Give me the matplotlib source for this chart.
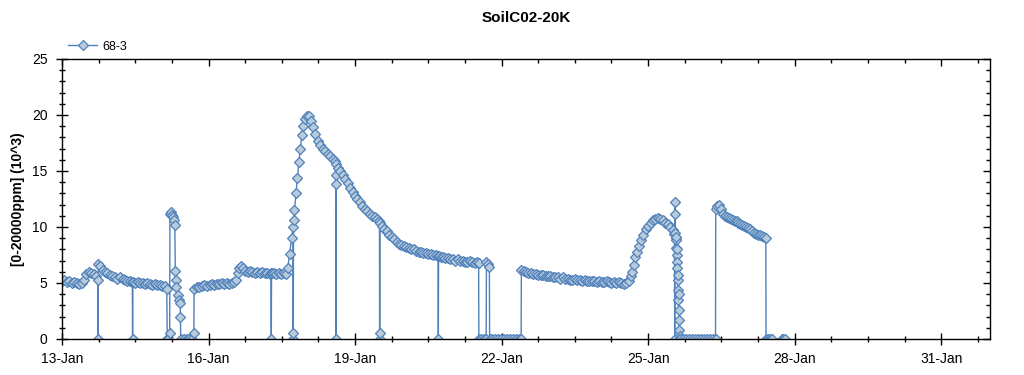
import matplotlib
matplotlib.use("Agg")
import matplotlib.pyplot as plt
import matplotlib.lines as mlines
import numpy as np
import pandas as pd

plt.rcParams['font.family'] = ['Liberation Sans', 'DejaVu Sans']

# ---------------- data (days after 13-Jan 00:00, value in 10^3 ppm) ----------------
day_offset = [
    0.00, 0.05, 0.10, 0.15, 0.20, 0.25, 0.30, 0.35, 0.40, 0.45,
    0.50, 0.55, 0.60, 0.65, 0.70, 0.73, 0.735, 0.745, 0.78, 0.83,
    0.88, 0.93, 0.98, 1.03, 1.08, 1.13, 1.19, 1.24, 1.29, 1.34,
    1.39, 1.44, 1.445, 1.45, 1.50, 1.55, 1.60, 1.65, 1.70, 1.75,
    1.80, 1.85, 1.90, 1.95, 2.00, 2.05, 2.10, 2.145, 2.155, 2.18,
    2.205, 2.21, 2.23, 2.25, 2.27, 2.29, 2.31, 2.32, 2.325, 2.33,
    2.37, 2.40, 2.42, 2.425, 2.43, 2.49, 2.55, 2.61, 2.67, 2.70,
    2.705, 2.76, 2.81, 2.86, 2.91, 2.97, 3.02, 3.07, 3.12, 3.17,
    3.22, 3.27, 3.32, 3.37, 3.42, 3.48, 3.53, 3.57, 3.60, 3.63,
    3.66, 3.70, 3.75, 3.80, 3.85, 3.90, 3.95, 4.00, 4.05, 4.10,
    4.15, 4.20, 4.25, 4.28, 4.285, 4.29, 4.34, 4.39, 4.44, 4.49,
    4.54, 4.58, 4.62, 4.66, 4.70, 4.73, 4.732, 4.735, 4.74, 4.76,
    4.79, 4.82, 4.85, 4.88, 4.91, 4.94, 4.98, 5.02, 5.06, 5.10,
    5.14, 5.19, 5.24, 5.29, 5.34, 5.39, 5.44, 5.49, 5.54, 5.59,
    5.60, 5.603, 5.606, 5.61, 5.65, 5.70, 5.75, 5.80, 5.85, 5.90,
    5.95, 6.00, 6.05, 6.10, 6.15, 6.20, 6.25, 6.30, 6.35, 6.40,
    6.45, 6.50, 6.503, 6.506, 6.51, 6.55, 6.60, 6.65, 6.70, 6.75,
    6.80, 6.85, 6.90, 6.95, 7.00, 7.05, 7.10, 7.15, 7.20, 7.25,
    7.30, 7.35, 7.40, 7.45, 7.50, 7.55, 7.60, 7.65, 7.70, 7.705,
    7.71, 7.75, 7.80, 7.85, 7.90, 7.95, 8.00, 8.05, 8.10, 8.15,
    8.20, 8.25, 8.30, 8.35, 8.40, 8.45, 8.50, 8.53, 8.535, 8.58,
    8.64, 8.685, 8.69, 8.72, 8.75, 8.755, 8.81, 8.87, 8.93, 8.99,
    9.05, 9.11, 9.17, 9.23, 9.29, 9.35, 9.40,
    9.405, 9.45, 9.50, 9.55, 9.60, 9.65, 9.70, 9.75, 9.80, 9.85,
    9.90, 9.95, 10.00, 10.05, 10.10, 10.15, 10.20, 10.25, 10.30, 10.35,
    10.40, 10.45, 10.50, 10.55, 10.60, 10.65, 10.70, 10.75, 10.80, 10.85,
    10.90, 10.95, 11.00, 11.05, 11.10, 11.15, 11.20, 11.25, 11.30, 11.35,
    11.40, 11.45, 11.50, 11.55, 11.60, 11.65, 11.68, 11.71, 11.74, 11.77,
    11.81, 11.85, 11.90, 11.95, 12.00, 12.05, 12.10, 12.15, 12.20, 12.25,
    12.30, 12.35, 12.40, 12.45, 12.50, 12.54, 12.545, 12.55, 12.555, 12.56,
    12.565, 12.57, 12.575, 12.58, 12.585, 12.59, 12.595, 12.60, 12.605, 12.61,
    12.615, 12.62, 12.625, 12.63, 12.635, 12.64, 12.645, 12.65, 12.655, 12.66,
    12.72, 12.78, 12.84, 12.90, 12.96, 13.02, 13.08, 13.14, 13.20, 13.26,
    13.32, 13.38,
    13.385, 13.42, 13.45, 13.49, 13.53, 13.57, 13.61, 13.65, 13.69, 13.73,
    13.77, 13.81, 13.85, 13.89, 13.93, 13.97, 14.01, 14.05, 14.09, 14.13,
    14.17, 14.21, 14.25, 14.29, 14.33, 14.37, 14.41, 14.415, 14.45, 14.50,
    14.53, 14.74, 14.77, 14.80,
]
co2_k = [
    5.2, 5.3, 5.1, 5.2, 5.0, 5.1, 5.0, 4.9, 5.0, 5.3,
    5.8, 6.0, 5.9, 5.8, 5.6, 5.3, 0.0, 6.7, 6.5, 6.2,
    6.0, 5.9, 5.7, 5.6, 5.5, 5.4, 5.5, 5.4, 5.3, 5.2,
    5.2, 5.1, 0.0, 5.1, 5.0, 5.1, 5.0, 5.0, 4.9, 5.0,
    4.9, 4.8, 4.9, 4.8, 4.8, 4.7, 4.7, 4.5, 0.0, 0.0,
    0.5, 11.2, 11.3, 11.1, 10.9, 10.6, 10.2, 6.1, 5.3, 4.6,
    3.9, 3.5, 3.2, 2.0, 0.0, 0.0, 0.0, 0.0, 0.0, 0.5,
    4.5, 4.6, 4.6, 4.7, 4.8, 4.7, 4.8, 4.9, 4.8, 4.9,
    4.9, 5.0, 4.9, 5.0, 4.9, 5.0, 5.1, 5.3, 5.9, 6.3,
    6.5, 6.3, 6.1, 6.0, 6.1, 6.0, 5.9, 6.0, 5.9, 6.0,
    5.9, 5.9, 5.8, 5.9, 0.0, 5.9, 5.9, 5.8, 5.9, 5.8,
    5.9, 5.8, 6.3, 7.6, 9.0, 10.0, 0.0, 0.5, 10.6, 11.5,
    13.0, 14.4, 15.8, 17.0, 18.2, 19.0, 19.6, 19.9, 19.9, 19.5,
    18.9, 18.3, 17.7, 17.3, 17.0, 16.8, 16.5, 16.3, 16.1, 15.9,
    14.6, 13.8, 0.0, 15.6, 15.3, 15.0, 14.6, 14.3, 13.9, 13.5,
    13.1, 12.8, 12.5, 12.2, 11.9, 11.6, 11.4, 11.2, 11.0, 10.9,
    10.7, 10.5, 0.0, 0.5, 10.4, 10.1, 9.8, 9.6, 9.3, 9.1,
    8.9, 8.7, 8.5, 8.4, 8.3, 8.2, 8.1, 8.0, 8.0, 7.9,
    7.8, 7.8, 7.7, 7.7, 7.6, 7.6, 7.5, 7.5, 7.4, 0.0,
    7.4, 7.3, 7.3, 7.2, 7.2, 7.1, 7.1, 7.0, 7.1, 7.0,
    7.0, 6.9, 6.9, 7.0, 6.9, 6.8, 6.9, 6.8, 0.0, 0.0,
    0.0, 0.0, 6.9, 6.7, 6.4, 0.0, 0.0, 0.0, 0.0, 0.0,
    0.0, 0.0, 0.0, 0.0, 0.0, 0.0, 0.0,
    6.2, 6.1, 6.0, 5.9, 5.9, 5.8, 5.8, 5.7, 5.7, 5.7,
    5.6, 5.6, 5.6, 5.5, 5.5, 5.5, 5.4, 5.5, 5.4, 5.4,
    5.3, 5.3, 5.4, 5.3, 5.3, 5.2, 5.3, 5.2, 5.2, 5.2,
    5.2, 5.1, 5.2, 5.1, 5.1, 5.2, 5.1, 5.0, 5.1, 5.0,
    5.1, 5.0, 4.9, 5.0, 5.2, 5.6, 6.0, 6.6, 7.3, 7.8,
    8.3, 8.8, 9.3, 9.8, 10.1, 10.4, 10.6, 10.7, 10.8, 10.7,
    10.6, 10.4, 10.3, 10.0, 9.7, 9.4, 0.0, 12.2, 11.2, 9.5,
    9.0, 8.8, 9.1, 8.1, 7.5, 8.0, 6.9, 6.3, 5.3, 5.7,
    4.4, 3.5, 4.0, 2.6, 1.7, 0.8, 0.3, 0.0, 0.0, 0.0,
    0.0, 0.0, 0.0, 0.0, 0.0, 0.0, 0.0, 0.0, 0.0, 0.0,
    0.0, 0.0,
    11.6, 11.9, 12.0, 11.6, 11.2, 11.0, 10.9, 10.8, 10.7, 10.6,
    10.5, 10.5, 10.4, 10.3, 10.2, 10.1, 10.0, 9.9, 9.8, 9.6,
    9.5, 9.4, 9.3, 9.3, 9.2, 9.1, 9.0, 0.0, 0.0, 0.0,
    0.0, 0.0, 0.0, 0.0,
]
assert len(day_offset) == len(co2_k)

series_name = "68-3"
start_date = "2025-01-13"
end_date = "2025-02-01"
xtick_dates = ["2025-01-13", "2025-01-16", "2025-01-19", "2025-01-22",
               "2025-01-25", "2025-01-28", "2025-01-31"]
xtick_labels = ["13-Jan", "16-Jan", "19-Jan", "22-Jan", "25-Jan", "28-Jan", "31-Jan"]
yticks = [0, 5, 10, 15, 20, 25]

# ---------------- figure ----------------
W, H = 1024, 375
fig = plt.figure(figsize=(W / 100, H / 100), dpi=100)
ax = fig.add_axes([62 / W, 1 - 339 / H, (990 - 62) / W, (339 - 59) / H])

start = pd.Timestamp(start_date)
times = (start + pd.to_timedelta(day_offset, unit="D")).to_numpy()

ax.plot(times, co2_k, color="#4f81bd", lw=1.0, marker="D", ms=5.0,
        mfc="#b9cad8", mec="#4f81bd", mew=0.9, label=series_name)

ax.set_xlim(pd.Timestamp(start_date), pd.Timestamp(end_date))
ax.set_ylim(0, 25)

ax.set_xticks(pd.to_datetime(xtick_dates))
ax.set_xticklabels(xtick_labels)
minor_pos = start + pd.to_timedelta(np.arange(0, 19.01, 0.75), unit="D")
ax.set_xticks(minor_pos, minor=True)
ax.set_yticks(yticks)
ax.set_yticks(np.arange(0, 25.01, 1), minor=True)

ax.tick_params(which="both", direction="inout", top=True, right=True,
               width=1, colors="black", labelsize=10)
ax.tick_params(which="major", length=9)
ax.tick_params(which="minor", length=5)
ax.tick_params(axis="y", pad=6)
ax.tick_params(axis="x", pad=5)

# top and right ticks point inward only
for tk in ax.xaxis.get_major_ticks(len(xtick_dates)):
    tk.tick2line.set_marker(mlines.TICKDOWN)
    tk.tick2line.set_markersize(5)
for tk in ax.xaxis.get_minor_ticks(len(minor_pos)):
    tk.tick2line.set_marker(mlines.TICKDOWN)
    tk.tick2line.set_markersize(3)
for tk in ax.yaxis.get_major_ticks(len(yticks)):
    tk.tick2line.set_marker(mlines.TICKLEFT)
    tk.tick2line.set_markersize(5)
for tk in ax.yaxis.get_minor_ticks(26):
    tk.tick2line.set_marker(mlines.TICKLEFT)
    tk.tick2line.set_markersize(3)

for s in ax.spines.values():
    s.set_linewidth(1)
    s.set_color("black")

fig.text(526 / W, 1 - 18 / H, "SoilC02-20K", ha="center", va="center",
         fontsize=11, fontweight="bold")
fig.text(18 / W, 1 - 199 / H, "[0-20000ppm] (10^3)", ha="center", va="center",
         rotation=90, fontsize=10, fontweight="bold")

ax.legend(loc="lower left", bbox_to_anchor=(0.0, 1.0), frameon=False,
          fontsize=9, handlelength=2.3, borderaxespad=0.2, borderpad=0.3,
          handletextpad=0.4)

fig.savefig("out.png", dpi=100)
